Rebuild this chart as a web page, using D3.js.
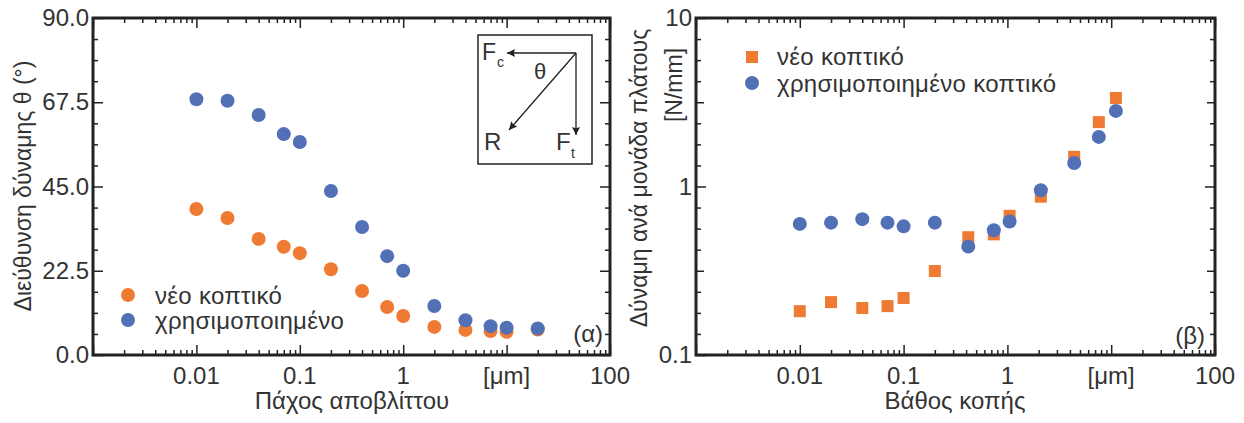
<!DOCTYPE html>
<html>
<head>
<meta charset="utf-8">
<script src="https://cdn.jsdelivr.net/npm/d3@7"></script>
<style>
  body { margin: 0; background: #fff; }
  svg text { font-family: "Liberation Sans", Arial, sans-serif; fill: #333; }
</style>
</head>
<body>
<svg id="chart" width="1244" height="423"></svg>
<script>
// panel (α) - force direction vs chip thickness
const xA = [0.01, 0.02, 0.04, 0.07, 0.1, 0.2, 0.4, 0.7, 1, 2, 4, 7, 10, 20];
const angleNew = [39.0, 36.6, 31.0, 28.9, 27.2, 22.9, 17.1, 12.8, 10.4, 7.5, 6.7, 6.4, 6.2, 6.8];
const angleUsed = [68.3, 67.9, 64.1, 59.0, 56.9, 43.8, 34.2, 26.4, 22.5, 13.1, 9.3, 7.7, 7.3, 7.1];

// panel (β) - force per unit width vs depth of cut
const xB = [0.01, 0.02, 0.04, 0.07, 0.1, 0.2, 0.42, 0.74, 1.05, 2.1, 4.4, 7.6, 11.1];
const forceNew = [0.182, 0.206, 0.190, 0.195, 0.218, 0.315, 0.50, 0.52, 0.67, 0.87, 1.50, 2.41, 3.35];
const forceUsed = [0.60, 0.61, 0.64, 0.61, 0.58, 0.61, 0.44, 0.55, 0.62, 0.95, 1.38, 1.97, 2.81];

const xTicks = [0.001, 0.01, 0.1, 1, 10, 100];
const xTickLabels = ["", "0.01", "0.1", "1", "[μm]", "100"];
const yTicksA = [0, 22.5, 45, 67.5, 90];
const yTicksB = [0.1, 1, 10];
const yTickLabelsB = ["0.1", "1", "10"];

const legendA = ["νέο κοπτικό", "χρησιμοποιημένο"];
const legendB = ["νέο κοπτικό", "χρησιμοποιημένο κοπτικό"];

const orange = "#ef7a33";
const blue = "#5170b6";
const ink = "#222";

const svg = d3.select("#chart");

// log minor ticks 2..9 per decade
const logMinors = function(lo, hi) {
  const out = [];
  for (let e = Math.log10(lo); e < Math.log10(hi); e++) {
    for (let m = 2; m <= 9; m++) out.push(m * Math.pow(10, e));
  }
  return out;
};

// draws inward ticks on all four sides
const drawFrame = function(g, x, y, opt) {
  const [x0, x1] = x.range();
  const [y0, y1] = y.range();
  const w = x1 - x0, h = y0 - y1;

  const tickSet = function(axisGen, vals, size, tx, ty) {
    g.append("g")
      .attr("transform", `translate(${tx},${ty})`)
      .call(axisGen.tickValues(vals).tickSize(size).tickFormat(""))
      .call(s => s.select(".domain").remove())
      .call(s => s.selectAll("line").attr("stroke", ink).attr("stroke-width", 1.5));
  };

  // bottom / top
  tickSet(d3.axisBottom(x), xTicks, -10, 0, y0);
  tickSet(d3.axisBottom(x), logMinors(0.001, 100), -5, 0, y0);
  tickSet(d3.axisTop(x), xTicks, -10, 0, y1);
  tickSet(d3.axisTop(x), logMinors(0.001, 100), -5, 0, y1);
  // left / right
  opt.yTickGroups.forEach(t => {
    tickSet(d3.axisLeft(y), t.vals, -t.size, x0, 0);
    tickSet(d3.axisRight(y), t.vals, -t.size, x1, 0);
  });

  g.append("rect")
    .attr("x", x0).attr("y", y1).attr("width", w).attr("height", h)
    .attr("fill", "none").attr("stroke", ink).attr("stroke-width", 3);

  // tick labels
  g.append("g").selectAll("text")
    .data(xTicks)
    .join("text")
    .attr("x", d => x(d))
    .attr("y", y0 + 29)
    .attr("text-anchor", "middle")
    .attr("font-size", 24)
    .text((d, i) => xTickLabels[i]);

  g.append("g").selectAll("text")
    .data(opt.yLabelVals)
    .join("text")
    .attr("x", x0 - 4)
    .attr("y", d => y(d) + 8)
    .attr("text-anchor", "end")
    .attr("font-size", 24)
    .text((d, i) => opt.yLabelText[i]);
};

// ---------- panel α ----------
const xa = d3.scaleLog().domain([0.001, 100]).range([93, 610]);
const ya = d3.scaleLinear().domain([0, 90]).range([355, 18]);
const gA = svg.append("g");

drawFrame(gA, xa, ya, {
  yTickGroups: [
    { vals: yTicksA, size: 10 },
    { vals: d3.range(0, 90.01, 5.625).filter(v => v % 22.5 !== 0), size: 5 }
  ],
  yLabelVals: yTicksA,
  yLabelText: yTicksA.map(d => d.toFixed(1))
});

gA.append("g").selectAll("circle")
  .data(xA.map((d, i) => [d, angleNew[i]]))
  .join("circle")
  .attr("cx", d => xa(d[0])).attr("cy", d => ya(d[1])).attr("r", 7)
  .attr("fill", orange);
gA.append("g").selectAll("circle")
  .data(xA.map((d, i) => [d, angleUsed[i]]))
  .join("circle")
  .attr("cx", d => xa(d[0])).attr("cy", d => ya(d[1])).attr("r", 7)
  .attr("fill", blue);

// legend α
[orange, blue].forEach((c, i) => {
  gA.append("circle").attr("cx", 128).attr("cy", 295 + i * 25).attr("r", 7).attr("fill", c);
  gA.append("text").attr("x", 155).attr("y", 304 + i * 25).attr("font-size", 24)
    .attr("letter-spacing", 0.3).text(legendA[i]);
});

gA.append("text").attr("x", 603).attr("y", 342).attr("text-anchor", "end")
  .attr("font-size", 24).text("(α)");

gA.append("text").attr("x", 352).attr("y", 409).attr("text-anchor", "middle")
  .attr("font-size", 24).text("Πάχος αποβλίττου");

gA.append("text")
  .attr("transform", "translate(31,186) rotate(-90)")
  .attr("text-anchor", "middle").attr("font-size", 23)
  .text("Διεύθυνση δύναμης θ (°)");

// inset with force diagram
const inset = gA.append("g");
inset.append("rect").attr("x", 478).attr("y", 35).attr("width", 114).attr("height", 129)
  .attr("fill", "#fff").attr("stroke", ink).attr("stroke-width", 1.5);
const defs = svg.append("defs");
defs.append("marker").attr("id", "head")
  .attr("viewBox", "0 0 10 10").attr("refX", 10).attr("refY", 5)
  .attr("markerWidth", 21).attr("markerHeight", 8).attr("markerUnits", "userSpaceOnUse")
  .attr("orient", "auto")
  .append("path").attr("d", "M0,0L10,5L0,10L1.5,5Z").attr("fill", ink);
const o = [576, 53];
[[507, 53], [576, 135], [509, 130]].forEach(p => {
  inset.append("line").attr("x1", o[0]).attr("y1", o[1]).attr("x2", p[0]).attr("y2", p[1])
    .attr("stroke", ink).attr("stroke-width", 1.3).attr("marker-end", "url(#head)");
});
inset.append("text").attr("x", 482).attr("y", 60).attr("font-size", 23).text("F");
inset.append("text").attr("x", 497).attr("y", 67).attr("font-size", 14).text("c");
inset.append("text").attr("x", 534).attr("y", 79).attr("font-size", 22).text("θ");
inset.append("text").attr("x", 484).attr("y", 150).attr("font-size", 24).text("R");
inset.append("text").attr("x", 556).attr("y", 150).attr("font-size", 24).text("F");
inset.append("text").attr("x", 571).attr("y", 158).attr("font-size", 14).text("t");

// ---------- panel β ----------
const xb = d3.scaleLog().domain([0.001, 100]).range([696, 1215]);
const yb = d3.scaleLog().domain([0.1, 10]).range([355, 18]);
const gB = svg.append("g");

// eighth-decade minor ticks, half-decade medium ticks
const eighths = [];
const halves = [];
for (let e = -1; e < 1; e++) {
  for (let k = 1; k < 8; k++) {
    const v = Math.pow(10, e + k / 8);
    if (k === 4) halves.push(v); else eighths.push(v);
  }
}
drawFrame(gB, xb, yb, {
  yTickGroups: [
    { vals: yTicksB, size: 10 },
    { vals: halves, size: 8 },
    { vals: eighths, size: 5 }
  ],
  yLabelVals: yTicksB,
  yLabelText: yTickLabelsB
});

gB.append("g").selectAll("rect")
  .data(xB.map((d, i) => [d, forceNew[i]]))
  .join("rect")
  .attr("x", d => xb(d[0]) - 6).attr("y", d => yb(d[1]) - 6)
  .attr("width", 12).attr("height", 12)
  .attr("fill", orange);
gB.append("g").selectAll("circle")
  .data(xB.map((d, i) => [d, forceUsed[i]]))
  .join("circle")
  .attr("cx", d => xb(d[0])).attr("cy", d => yb(d[1])).attr("r", 7)
  .attr("fill", blue);

// legend β
gB.append("rect").attr("x", 746).attr("y", 51).attr("width", 12).attr("height", 12).attr("fill", orange);
gB.append("circle").attr("cx", 752).attr("cy", 83).attr("r", 7).attr("fill", blue);
legendB.forEach((t, i) => {
  gB.append("text").attr("x", 777).attr("y", 65 + i * 27).attr("font-size", 24)
    .attr("letter-spacing", 0.3).text(t);
});

gB.append("text").attr("x", 1205).attr("y", 344).attr("text-anchor", "end")
  .attr("font-size", 24).text("(β)");

gB.append("text").attr("x", 955).attr("y", 409).attr("text-anchor", "middle")
  .attr("font-size", 24).text("Βάθος κοπής");

gB.append("text")
  .attr("transform", "translate(647,178) rotate(-90)")
  .attr("text-anchor", "middle").attr("font-size", 23)
  .text("Δύναμη ανά μονάδα πλάτους");
gB.append("text")
  .attr("transform", "translate(682,85) rotate(-90)")
  .attr("text-anchor", "middle").attr("font-size", 23)
  .text("[N/mm]");
</script>
</body>
</html>
